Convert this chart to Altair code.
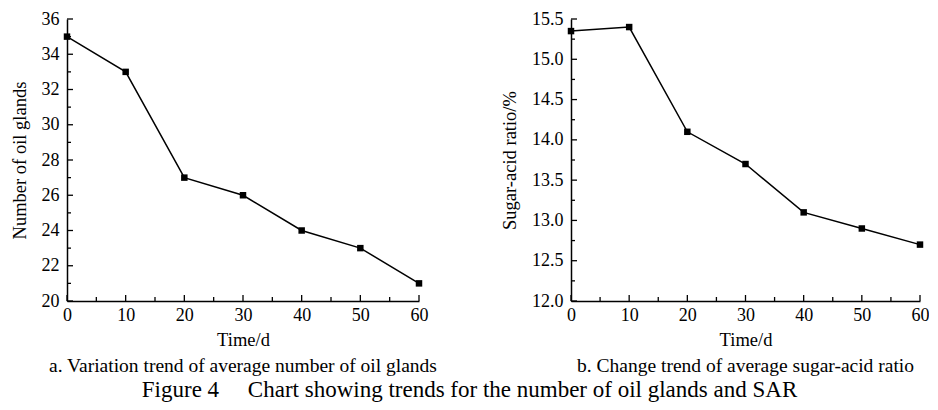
import altair as alt
import pandas as pd

# ---- data ----
days = [0, 10, 20, 30, 40, 50, 60]
oil_glands = [35, 33, 27, 26, 24, 23, 21]
sugar_acid = [15.35, 15.40, 14.10, 13.70, 13.10, 12.90, 12.70]

x_major = [0, 10, 20, 30, 40, 50, 60]
x_minor = [5, 15, 25, 35, 45, 55]
left_major = [20, 22, 24, 26, 28, 30, 32, 34, 36]
left_minor = [21, 23, 25, 27, 29, 31, 33, 35]
right_major = [12.0, 12.5, 13.0, 13.5, 14.0, 14.5, 15.0, 15.5]
right_minor = [12.25, 12.75, 13.25, 13.75, 14.25, 14.75, 15.25]

left_title = "Number of oil glands"
right_title = "Sugar-acid ratio/%"
x_title = "Time/d"
cap_a = "a. Variation trend of average number of oil glands"
cap_b = "b.  Change trend of average sugar-acid ratio"
fig_title = "Figure 4\u00a0\u00a0\u00a0\u00a0\u00a0Chart showing trends for the number of oil glands and SAR"

FONT = "Liberation Serif"
H = 282


def panel(values, ydom, ymaj, ymin, fmt, ytitle, caption, width):
    df = pd.DataFrame({"day": days, "v": values})
    xs = alt.Scale(domain=[0, 60], nice=False)
    ys = alt.Scale(domain=ydom, nice=False, zero=False)
    xaxis = alt.Axis(values=x_major, title=x_title, ticks=False, tickSize=0,
                     labelPadding=5, titlePadding=6, grid=False, labelFlush=False)
    yaxis = alt.Axis(values=ymaj, format=fmt, title=ytitle, ticks=False, tickSize=0,
                     labelPadding=8, titlePadding=12, grid=False, labelFlush=False)
    line = alt.Chart(df).mark_line(color="black", strokeWidth=1.5).encode(
        x=alt.X("day:Q", scale=xs, axis=xaxis),
        y=alt.Y("v:Q", scale=ys, axis=yaxis),
    )
    pts = alt.Chart(df).mark_square(color="black", size=42, opacity=1).encode(
        x=alt.X("day:Q", scale=xs, axis=xaxis),
        y=alt.Y("v:Q", scale=ys, axis=yaxis),
    )
    xt_major = alt.Chart(pd.DataFrame({"t": x_major})).mark_rule(color="black", strokeWidth=1.3).encode(
        x=alt.X("t:Q", scale=xs, axis=xaxis), y=alt.value(H), y2=alt.value(H - 6))
    xt_minor = alt.Chart(pd.DataFrame({"t": x_minor})).mark_rule(color="black", strokeWidth=1.3).encode(
        x=alt.X("t:Q", scale=xs, axis=xaxis), y=alt.value(H), y2=alt.value(H - 4))
    yt_major = alt.Chart(pd.DataFrame({"t": ymaj})).mark_rule(color="black", strokeWidth=1.3).encode(
        y=alt.Y("t:Q", scale=ys, axis=yaxis), x=alt.value(0), x2=alt.value(6))
    yt_minor = alt.Chart(pd.DataFrame({"t": ymin})).mark_rule(color="black", strokeWidth=1.3).encode(
        y=alt.Y("t:Q", scale=ys, axis=yaxis), x=alt.value(0), x2=alt.value(4))
    return alt.layer(line, pts, xt_major, xt_minor, yt_major, yt_minor).properties(
        width=width, height=H,
        title=alt.TitleParams(caption, orient="bottom", anchor="middle", font=FONT,
                              fontSize=19.5, fontWeight="normal", color="black", offset=8),
    )


left = panel(oil_glands, [20, 36], left_major, left_minor, "d", left_title, cap_a, 352)
right = panel(sugar_acid, [12, 15.5], right_major, right_minor, ".1f", right_title, cap_b, 349)

chart = alt.hconcat(left, right, spacing=62).properties(
    title=alt.TitleParams(fig_title, orient="bottom", anchor="middle", font=FONT,
                          fontSize=23, fontWeight="normal", color="black", offset=4),
    padding={"left": 2, "top": 2, "right": 0, "bottom": 0},
    background="white",
).configure_view(stroke=None).configure_axis(
    labelFont=FONT, titleFont=FONT, labelFontSize=18, titleFontSize=18.5,
    titleFontWeight="normal", labelColor="black", titleColor="black",
    domainColor="black", domainWidth=1.5,
)

chart.save("out.html", embed_options={"renderer": "svg", "actions": False})
